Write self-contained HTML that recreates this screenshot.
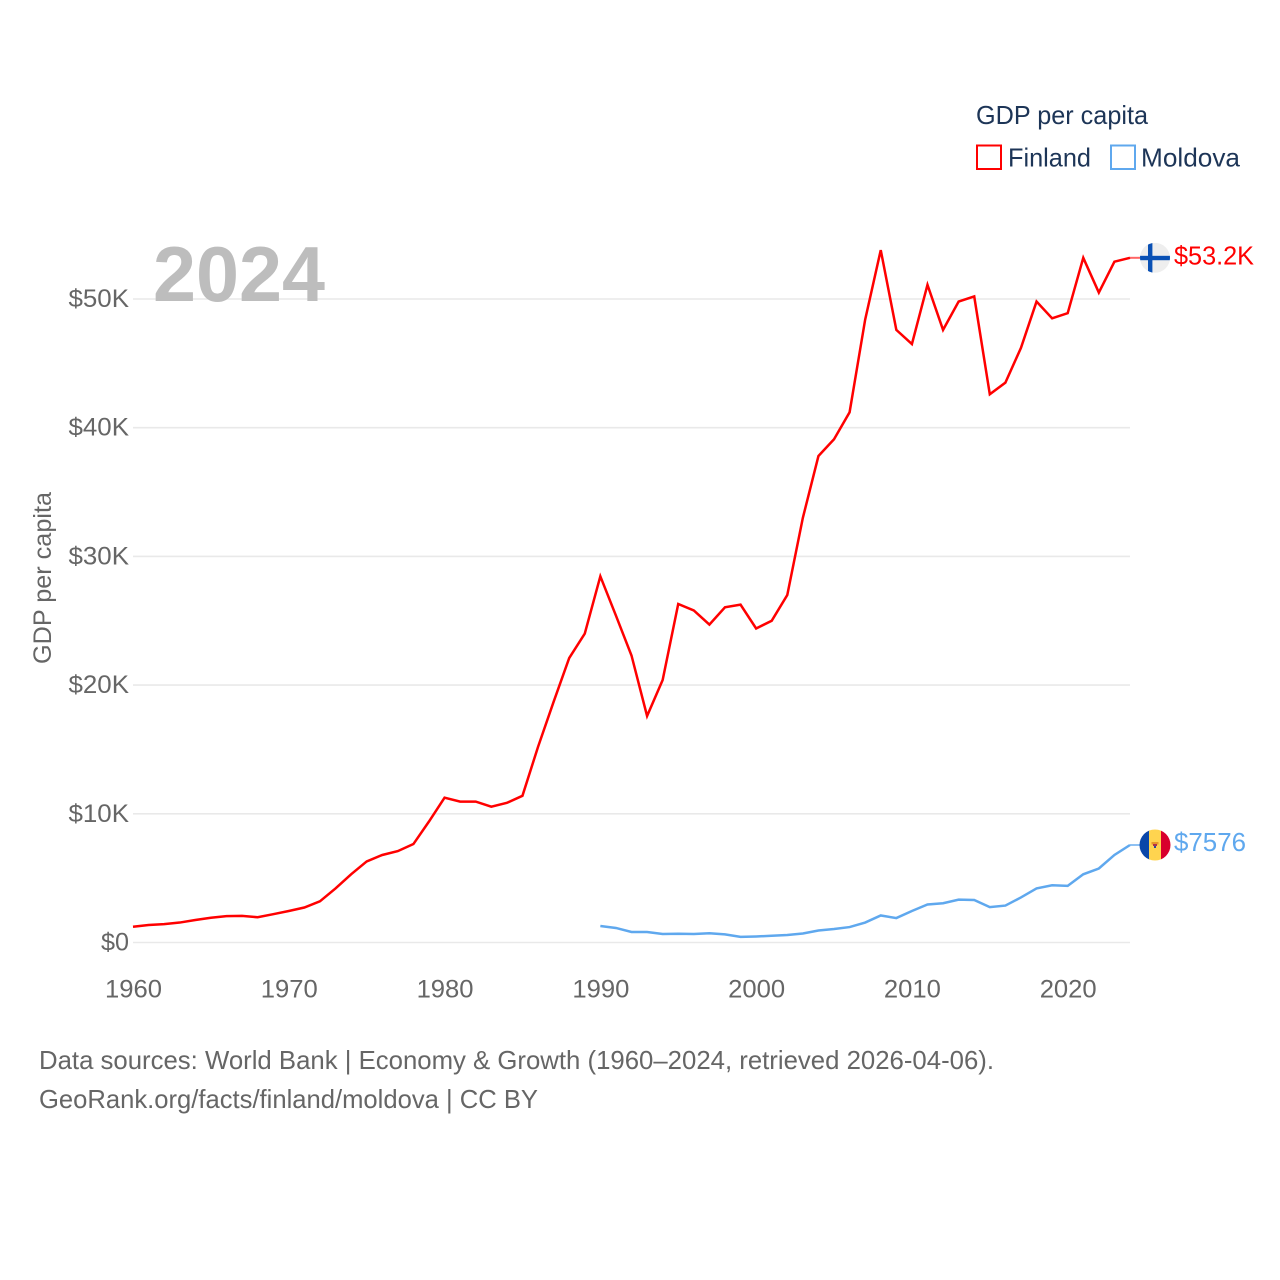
<!DOCTYPE html>
<html lang="en">
<head>
<meta charset="utf-8">
<title>GDP per capita: Finland vs Moldova</title>
<style>
html,body{margin:0;padding:0;background:#fff;width:1280px;height:1280px;overflow:hidden}
svg{display:block;font-family:"Liberation Sans",sans-serif}
</style>
</head>
<body>
<svg id="chart" xmlns="http://www.w3.org/2000/svg" width="1280" height="1280" viewBox="0 0 1280 1280">
  <defs>
    <clipPath id="clip-fi"><circle id="clip-fi-c" r="15"></circle></clipPath>
    <clipPath id="clip-md"><circle id="clip-md-c" r="15.5"></circle></clipPath>
  </defs>
  <g id="grid"></g>
  <g id="yticks"></g>
  <g id="xticks"></g>
  <text x="153" y="301" font-size="78" font-weight="bold" fill="#bdbdbd" textLength="172" lengthAdjust="spacingAndGlyphs">2024</text>
  <text transform="translate(51,664) rotate(-90)" font-size="25" fill="#666" textLength="172" lengthAdjust="spacingAndGlyphs">GDP per capita</text>
  <g id="series"></g>
  <g id="ends"></g>

  <g>
    <text x="976" y="124" font-size="26" fill="#1d3557" textLength="172" lengthAdjust="spacingAndGlyphs">GDP per capita</text>
    <rect x="977" y="145.5" width="24" height="23.5" fill="none" stroke="#ff0000" stroke-width="2"></rect>
    <text x="1008" y="166.5" font-size="26" fill="#1d3557" textLength="83" lengthAdjust="spacingAndGlyphs">Finland</text>
    <rect x="1111" y="145.5" width="24" height="23.5" fill="none" stroke="#5fa8ee" stroke-width="2"></rect>
    <text x="1141" y="166.5" font-size="26" fill="#1d3557" textLength="99" lengthAdjust="spacingAndGlyphs">Moldova</text>
  </g>

  <g font-size="26" fill="#666">
    <text x="39" y="1069" textLength="955" lengthAdjust="spacingAndGlyphs">Data sources: World Bank | Economy &amp; Growth (1960–2024, retrieved 2026-04-06).</text>
    <text x="39" y="1108" textLength="499" lengthAdjust="spacingAndGlyphs">GeoRank.org/facts/finland/moldova | CC BY</text>
  </g>
</svg>
<script>
const yearStart = 1960;
const finlandValues = [1.22,1.36,1.43,1.55,1.75,1.92,2.05,2.07,1.96,2.2,2.45,2.72,3.2,4.2,5.3,6.3,6.8,7.1,7.65,9.4,11.25,10.95,10.95,10.55,10.85,11.4,15.2,18.7,22.1,24.0,28.45,25.4,22.3,17.6,20.4,26.3,25.8,24.7,26.05,26.25,24.4,25.0,27.0,33.0,37.8,39.1,41.2,48.4,53.8,47.6,46.5,51.1,47.6,49.8,50.2,42.6,43.5,46.2,49.8,48.5,48.9,53.2,50.5,52.9,53.2];
const moldovaStartYear = 1990;
const moldovaValues = [1.28,1.13,0.82,0.82,0.66,0.68,0.66,0.72,0.63,0.44,0.47,0.52,0.58,0.7,0.93,1.05,1.2,1.55,2.1,1.9,2.45,2.95,3.05,3.33,3.3,2.75,2.87,3.5,4.2,4.45,4.4,5.3,5.75,6.8,7.576];
const yTickValues = [0,10,20,30,40,50];
const yTickLabels = ["$0","$10K","$20K","$30K","$40K","$50K"];
const xTickYears = [1960,1970,1980,1990,2000,2010,2020];
const finlandEndLabel = "$53.2K";
const moldovaEndLabel = "$7576";

const NS = "http://www.w3.org/2000/svg";
function xScale(year){ return 133 + (year - 1960) * (1130 - 133) / 64; }
function yScale(v){ return 942.5 - v * 12.87; }
function mk(tag, attrs, parent, text){
  const el = document.createElementNS(NS, tag);
  for (const k in attrs) el.setAttribute(k, attrs[k]);
  if (text !== undefined) el.textContent = text;
  parent.appendChild(el);
  return el;
}
const grid = document.getElementById("grid");
const yticks = document.getElementById("yticks");
const xticks = document.getElementById("xticks");
const series = document.getElementById("series");
const ends = document.getElementById("ends");

yTickValues.forEach(function(v, i){
  const line = mk("line", {x1:xScale(1960), x2:xScale(2024), y1:yScale(v), y2:yScale(v), stroke:"#e9e9e9", "stroke-width":1.6}, grid);
  
  
  const label = yTickLabels[i];
  const t = mk("text", {x:129, y:yScale(v)+8, "text-anchor":"end", "font-size":25, fill:"#666", textLength:label.length > 2 ? 60.5 : 28, lengthAdjust:"spacingAndGlyphs"}, yticks, label);
  
  
});
xTickYears.forEach(function(yr){
  const t = mk("text", {x:xScale(yr)+0.5, y:997.5, "text-anchor":"middle", "font-size":25, fill:"#666", textLength:57, lengthAdjust:"spacingAndGlyphs"}, xticks, String(yr));
  
  
});

function linePath(values, startYear){
  return values.map(function(v, i){
    return (i ? "L" : "M") + xScale(startYear + i).toFixed(2) + " " + yScale(v).toFixed(2);
  }).join("");
}
const finLine = mk("path", {d:linePath(finlandValues, yearStart), fill:"none", stroke:"#ff0000", "stroke-width":2.5, "stroke-linejoin":"miter"}, series);


const molLine = mk("path", {d:linePath(moldovaValues, moldovaStartYear), fill:"none", stroke:"#5fa8ee", "stroke-width":2.5, "stroke-linejoin":"miter"}, series);



const finY = yScale(finlandValues[finlandValues.length - 1]);
const molY = yScale(moldovaValues[moldovaValues.length - 1]);
const flagX = 1155;

const finConn = mk("line", {x1:xScale(2024), x2:1140, y1:finY, y2:finY, stroke:"#ff0000", "stroke-width":2, opacity:0.6}, ends);


const molConn = mk("line", {x1:xScale(2024), x2:1140, y1:molY, y2:molY, stroke:"#5fa8ee", "stroke-width":2, opacity:0.7}, ends);



const cf = document.getElementById("clip-fi-c");
cf.setAttribute("cx", flagX); cf.setAttribute("cy", finY);
const cm = document.getElementById("clip-md-c");
cm.setAttribute("cx", flagX); cm.setAttribute("cy", molY);

const fi = mk("g", {"clip-path":"url(#clip-fi)"}, ends);


mk("rect", {x:flagX-15, y:finY-15, width:30, height:30, fill:"#eeeeee"}, fi);
mk("rect", {x:flagX-15, y:finY-2, width:30, height:4.4, fill:"#0a51b5"}, fi);
mk("rect", {x:flagX-7, y:finY-15, width:4.4, height:30, fill:"#0a51b5"}, fi);

const md = mk("g", {"clip-path":"url(#clip-md)"}, ends);


mk("rect", {x:flagX-16, y:molY-16, width:11, height:32, fill:"#0a47a9"}, md);
mk("rect", {x:flagX-6, y:molY-16, width:12, height:32, fill:"#ffd44f"}, md);
mk("rect", {x:flagX+6, y:molY-16, width:10, height:32, fill:"#d8002c"}, md);
mk("rect", {x:flagX-3.5, y:molY-3, width:7, height:2.5, fill:"#e8952a"}, md);
mk("rect", {x:flagX-2, y:molY-1, width:4, height:2, fill:"#b0304a"}, md);
mk("rect", {x:flagX-1, y:molY+1, width:2, height:2, fill:"#2a4aa0"}, md);

const finLabel = mk("text", {x:1174, y:finY+6.5, "font-size":26, fill:"#ff0000", textLength:80, lengthAdjust:"spacingAndGlyphs"}, ends, finlandEndLabel);


const molLabel = mk("text", {x:1174, y:molY+6, "font-size":26, fill:"#5fa8ee", textLength:72, lengthAdjust:"spacingAndGlyphs"}, ends, moldovaEndLabel);


</script>
</body>
</html>
